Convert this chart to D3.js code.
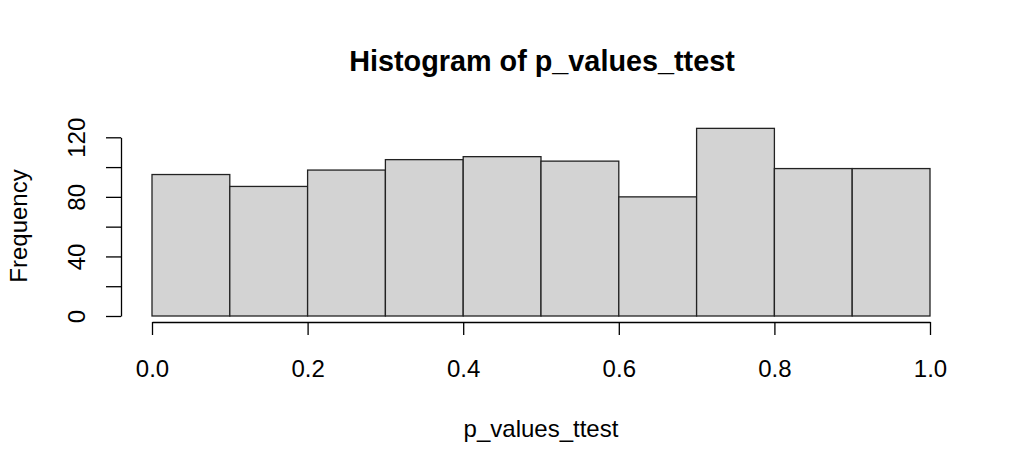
<!DOCTYPE html>
<html><head><meta charset="utf-8">
<script src="https://cdn.jsdelivr.net/npm/d3@7"></script>
<style>body{margin:0;background:#fff}svg{display:block}text{font-family:"Liberation Sans",Arial,sans-serif;fill:#000}</style>
</head><body><svg id="c" width="1024" height="474"></svg>
<script>
const breaks = [0,0.1,0.2,0.3,0.4,0.5,0.6,0.7,0.8,0.9,1.0];
const counts = [95,87,98,105,107,104,80,126,99,99];
const xTicks = [0,0.2,0.4,0.6,0.8,1.0];
const yTicks = [0,20,40,60,80,100,120];
const yLabels = [0,40,80,120];
const title = "Histogram of p_values_ttest";
const xLabel = "p_values_ttest";
const yLabel = "Frequency";

const svg = d3.select("#c");
const x = d3.scaleLinear().domain([0,1]).range([152,930]);
const y = d3.scaleLinear().domain([0,120]).range([316,137.3]);

const bins = counts.map((c,i)=>({x0:breaks[i],x1:breaks[i+1],c}));
svg.append("g").selectAll("rect").data(bins).join("rect")
  .attr("x",d=>x(d.x0)).attr("y",d=>y(d.c))
  .attr("width",d=>x(d.x1)-x(d.x0)).attr("height",d=>y(0)-y(d.c))
  .attr("fill","#d3d3d3").attr("stroke","#222").attr("stroke-width",1.3);

// x axis
const xa = svg.append("g").attr("transform","translate(0,322)")
  .call(d3.axisBottom(x).tickValues(xTicks).tickFormat(d3.format(".1f")).tickSize(13).tickSizeOuter(0));
xa.select(".domain").attr("stroke","#000").attr("stroke-width",1.3);
xa.selectAll(".tick line").attr("stroke","#000").attr("stroke-width",1.3);
xa.selectAll("text").attr("font-size",24).attr("font-family","Liberation Sans, Arial, sans-serif").attr("fill","#000")
  .attr("y",55).attr("dy",0);

// y axis
const ya = svg.append("g").attr("transform","translate(121,0)")
  .call(d3.axisLeft(y).tickValues(yTicks).tickFormat(d=>yLabels.includes(d)?d:"").tickSize(15).tickSizeOuter(0));
ya.select(".domain").attr("stroke","#000").attr("stroke-width",1.3);
ya.selectAll(".tick line").attr("stroke","#000").attr("stroke-width",1.3);
ya.selectAll("text").attr("font-size",24).attr("font-family","Liberation Sans, Arial, sans-serif").attr("fill","#000")
  .attr("text-anchor","middle").attr("x",0).attr("y",0).attr("dy",0)
  .attr("transform","translate(-36,0) rotate(-90)");

svg.append("text").attr("x",542).attr("y",71).attr("text-anchor","middle")
  .attr("font-size",28.8).attr("font-weight","bold").text(title);
svg.append("text").attr("x",541).attr("y",437).attr("text-anchor","middle")
  .attr("font-size",24).text(xLabel);
svg.append("text").attr("transform","translate(27,226) rotate(-90)").attr("text-anchor","middle")
  .attr("font-size",24).text(yLabel);
</script></body></html>
